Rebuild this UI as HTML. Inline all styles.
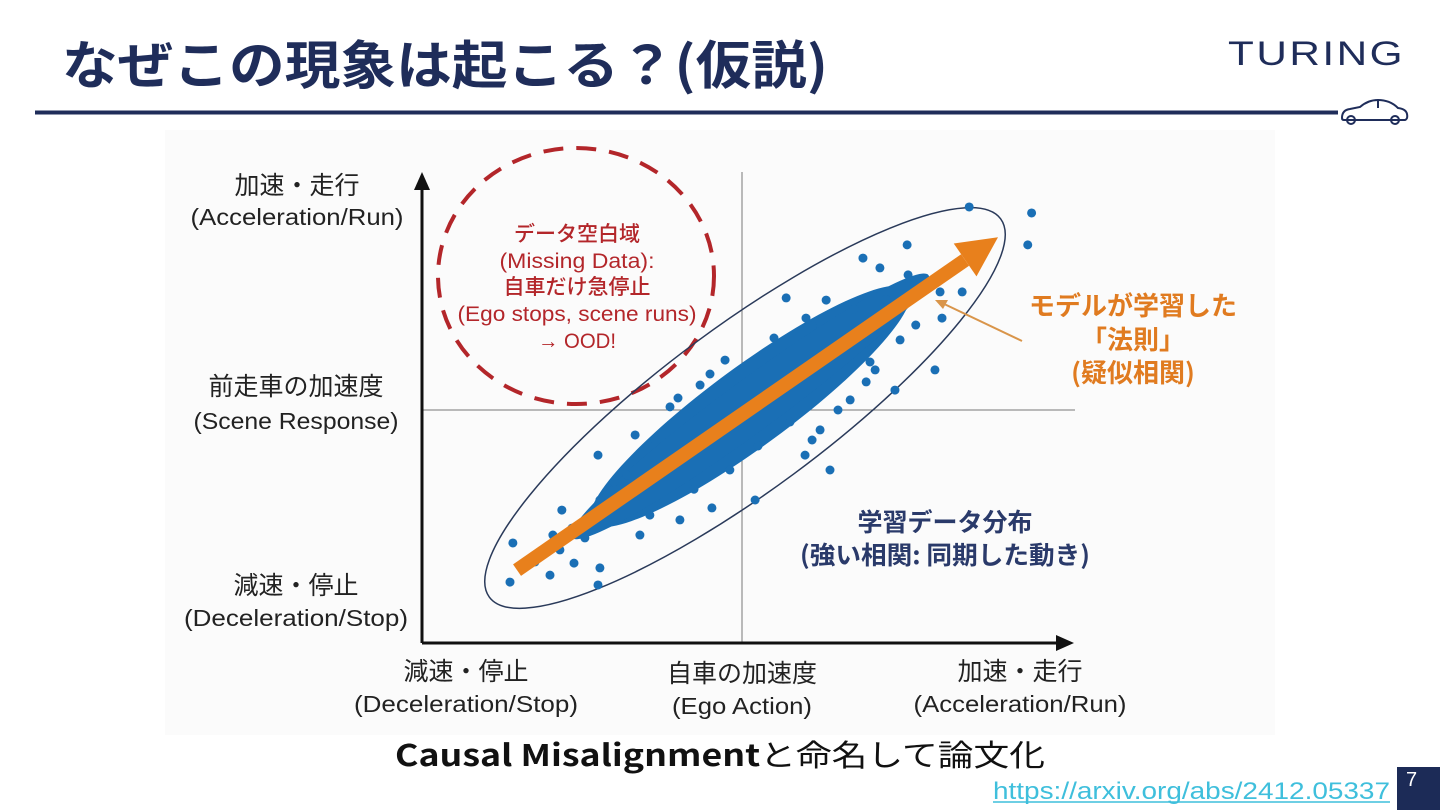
<!DOCTYPE html>
<html><head><meta charset="utf-8"><style>
html,body{margin:0;padding:0;background:#fff;}
svg{display:block;font-family:"Liberation Sans","Noto Sans CJK JP",sans-serif;}
</style></head><body>
<svg id="root" width="1440" height="810" viewBox="0 0 1440 810">
<rect x="0" y="0" width="1440" height="810" fill="#fff"/>
<text x="62" y="84" font-size="52" font-weight="700" fill="#1f2d5a" textLength="766" lengthAdjust="spacingAndGlyphs" font-family="'Noto Sans CJK JP',sans-serif">なぜこの現象は起こる？(仮説)</text>
<text x="1228" y="65" font-size="34" fill="#1f2d5a" textLength="177" lengthAdjust="spacingAndGlyphs" font-family="'Liberation Sans',sans-serif" letter-spacing="2">TURING</text>
<line x1="35" y1="112.5" x2="1338" y2="112.5" stroke="#1f2d5a" stroke-width="4"/>
<g fill="none" stroke="#1f2d5a" stroke-width="2">
<path d="M1342 118 q0 -8 8 -9 l10 -2 q8 -7 18 -7 q12 0 20 8 q8 1 9 6 q1 5 -2 6 l-61 0 q-2 0 -2 -2z"/>
<circle cx="1351" cy="120" r="4"/><circle cx="1395" cy="120" r="4"/>
<line x1="1378" y1="101" x2="1378" y2="108"/>
</g>
<rect x="165" y="130" width="1110" height="605" fill="#fbfbfb"/>
<g id="chart"></g>
<text x="395" y="766" font-size="30" fill="#111" textLength="650" lengthAdjust="spacingAndGlyphs" font-family="'Noto Sans CJK JP',sans-serif"><tspan font-weight="700">Causal Misalignment</tspan>と命名して論文化</text>
<text x="993" y="799" font-size="24" fill="#3fbfdc" textLength="397" lengthAdjust="spacingAndGlyphs">https://arxiv.org/abs/2412.05337</text>
<line x1="993" y1="802" x2="1390" y2="802" stroke="#3fbfdc" stroke-width="1.5"/>
<rect x="1397" y="767" width="43" height="43" fill="#1c2b57"/>
<text x="1406" y="786" font-size="20" fill="#fff">7</text>
</svg>
<script>
const xExtent = [-1, 1];
const yExtent = [-1, 1];
const outlierX = [0.71,0.905,0.893,0.516,0.431,0.378,0.519,0.619,0.688,0.543,0.625,0.494,0.603,0.416,0.478,0.388,0.313,0.138,0.2,0.263,-0.053,-0.131,-0.225,-0.334,-0.45,-0.359,-0.444,-0.563,-0.569,-0.525,-0.716,-0.6,-0.444,-0.45,-0.491,-0.725,-0.444,-0.319,-0.094,0.041,-0.038,0.197,0.244,0.275,0.338,0.219,-0.272,-0.381,-0.288,-0.194,-0.531,-0.591,-0.647,0.35,0.45,0.22,0.1,-0.1,-0.2,0.3,0.05,-0.3,-0.4,0.15,0.4,-0.15];
const outlierY = [0.846,0.821,0.688,0.688,0.592,0.633,0.563,0.492,0.492,0.354,0.383,0.292,0.167,0.167,0.083,0.117,0.292,0.467,0.383,0.458,0.208,0.104,0.013,-0.104,-0.188,-0.271,-0.375,-0.417,-0.583,-0.638,-0.554,-0.688,-0.658,-0.729,-0.533,-0.717,-0.479,-0.521,-0.408,-0.375,-0.25,-0.188,-0.083,-0.25,0.042,-0.125,-0.125,-0.354,-0.438,-0.458,-0.492,-0.521,-0.633,0.42,0.46,0.35,0.3,0.15,0.05,0.0,-0.15,-0.3,-0.3,-0.05,0.2,-0.33];
const coreStart = [-0.47, -0.47];
const coreEnd = [0.52, 0.5];
const trendStart = [-0.703, -0.667];
const trendEnd = [0.8, 0.72];
const NS='http://www.w3.org/2000/svg';
const g=document.getElementById('chart');
const X0=742, Y0=410, SX=320, SY=240;
function sx(v){return X0+v*SX;}
function sy(v){return Y0-v*SY;}
function mk(tag,attrs){const e=document.createElementNS(NS,tag);for(const k in attrs)e.setAttribute(k,attrs[k]);g.appendChild(e);return e;}
function txt(x,y,s,opt){const e=mk('text',Object.assign({x:x,y:y,'text-anchor':'middle','font-size':25,fill:'#222','font-family':"'Noto Sans CJK JP',sans-serif"},opt||{}));e.textContent=s;return e;}
let e=mk('line',{x1:sx(0),y1:172,x2:sx(0),y2:643,stroke:'#777','stroke-width':1});


e=mk('line',{x1:422,y1:sy(0),x2:1075,y2:sy(0),stroke:'#777','stroke-width':1});


e=mk('path',{d:'M422 643 L422 188',stroke:'#111','stroke-width':3,fill:'none'});


mk('path',{d:'M414 190 L422 172 L430 190Z',fill:'#111'});
e=mk('path',{d:'M422 643 L1058 643',stroke:'#111','stroke-width':3,fill:'none'});


mk('path',{d:'M1056 635 L1074 643 L1056 651Z',fill:'#111'});
e=mk('ellipse',{cx:576,cy:276,rx:138,ry:128,fill:'none',stroke:'#b3262a','stroke-width':4,'stroke-dasharray':'20 13'});


const cx=(sx(coreStart[0])+sx(coreEnd[0]))/2, cy=(sy(coreStart[1])+sy(coreEnd[1]))/2;
e=mk('ellipse',{cx:745,cy:408,rx:318,ry:82,transform:'rotate(-36.5 745 408)',fill:'none',stroke:'#2a3a5a','stroke-width':1.5});


const ang=Math.atan2(sy(coreEnd[1])-sy(coreStart[1]),sx(coreEnd[0])-sx(coreStart[0]))*180/Math.PI;
const len=Math.hypot(sy(coreEnd[1])-sy(coreStart[1]),sx(coreEnd[0])-sx(coreStart[0]));
e=mk('ellipse',{cx:cx,cy:cy,rx:len/2,ry:40,transform:`rotate(${ang} ${cx} ${cy})`,fill:'#1a6fb5'});


e=mk('ellipse',{cx:cx,cy:cy,rx:len/2+25,ry:26,transform:`rotate(${ang} ${cx} ${cy})`,fill:'#1a6fb5'});
for(let i=0;i<outlierX.length;i++){
  const p=mk('circle',{cx:sx(outlierX[i]),cy:sy(outlierY[i]),r:4.5,fill:'#1a6fb5'});
  
  
}
const ax1=sx(trendStart[0]),ay1=sy(trendStart[1]),ax2=sx(trendEnd[0]),ay2=sy(trendEnd[1]);
const th=Math.atan2(ay2-ay1,ax2-ax1);
const hl=40,hw=20;
const bx=ax2-hl*Math.cos(th),by=ay2-hl*Math.sin(th);
e=mk('line',{x1:ax1,y1:ay1,x2:bx,y2:by,stroke:'#e8801c','stroke-width':14});


mk('path',{d:`M${ax2} ${ay2} L${bx+hw*Math.sin(th)} ${by-hw*Math.cos(th)} L${bx-hw*Math.sin(th)} ${by+hw*Math.cos(th)}Z`,fill:'#e8801c'});
e=mk('line',{x1:1022,y1:341,x2:940,y2:302,stroke:'#d9954a','stroke-width':2});


mk('path',{d:'M935 300 L948 300 L943 309Z',fill:'#d9954a'});
const lab=(x,y,s,n,o)=>{const t=txt(x,y,s,o);};
const en=(w)=>({'font-family':"'Liberation Sans',sans-serif",'font-size':23,textLength:w,lengthAdjust:'spacingAndGlyphs'});
lab(297,194,'加速・走行','y-label-top');
lab(297,225,'(Acceleration/Run)','y-label-top-en',en(213));
lab(296,395,'前走車の加速度','y-axis-title');
lab(296,429,'(Scene Response)','y-axis-title-en',en(205));
lab(296,594,'減速・停止','y-label-bottom');
lab(296,626,'(Deceleration/Stop)','y-label-bottom-en',en(224));
lab(466,680,'減速・停止','x-label-left');
lab(466,712,'(Deceleration/Stop)','x-label-left-en',en(224));
lab(742,682,'自車の加速度','x-axis-title');
lab(742,714,'(Ego Action)','x-axis-title-en',en(140));
lab(1020,680,'加速・走行','x-label-right');
lab(1020,712,'(Acceleration/Run)','x-label-right-en',en(213));
const red={fill:'#b3262a','font-size':21,'font-weight':500};
const ren=(w)=>Object.assign({'font-family':"'Liberation Sans',sans-serif",textLength:w,lengthAdjust:'spacingAndGlyphs'},red);
lab(577,241,'データ空白域','missing-title',red);
lab(577,268,'(Missing Data):','missing-line2',ren(155));
lab(577,294,'自車だけ急停止','missing-line3',red);
lab(577,321,'(Ego stops, scene runs)','missing-line4',ren(239));
lab(577,348,'→ OOD!','missing-line5',ren(78));
const or={fill:'#e07b20','font-weight':700,'font-size':26};
lab(1133,315,'モデルが学習した','model-label-1',or);
lab(1133,349,'「法則」','model-label-2',or);
lab(1133,382,'(疑似相関)','model-label-3',or);
const nv={fill:'#2a3a6a','font-weight':700,'font-size':25};
lab(945,531,'学習データ分布','dist-label-1',nv);
lab(945,564,'(強い相関: 同期した動き)','dist-label-2',Object.assign({textLength:290,lengthAdjust:'spacingAndGlyphs'},nv));
</script>
</body></html>
